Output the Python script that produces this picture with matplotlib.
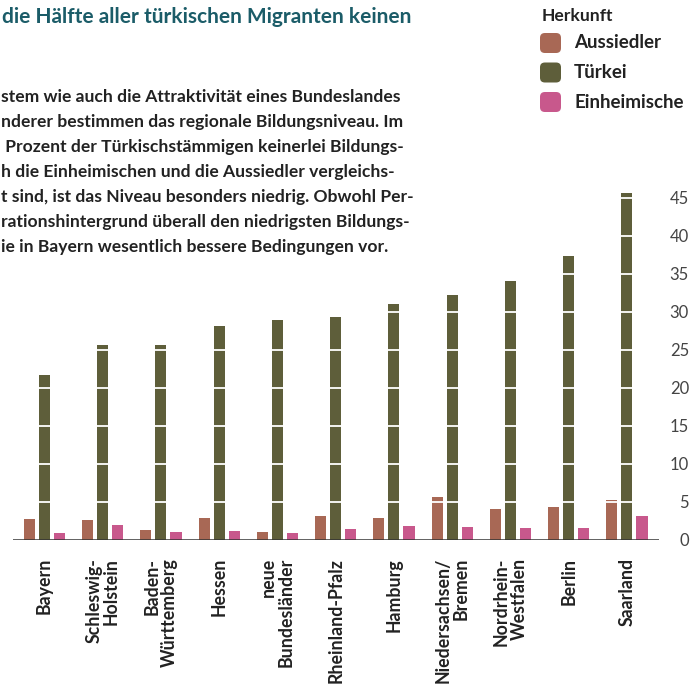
import numpy as np
import matplotlib
matplotlib.use("Agg")
import matplotlib.pyplot as plt
from matplotlib.patches import FancyBboxPatch

plt.rcParams['font.family'] = ['Lato', 'DejaVu Sans']

# Anteil ohne Bildungsabschluss nach Bundesland und Herkunft (Prozent)
laender = ["Bayern", "Schleswig-\nHolstein", "Baden-\nWürttemberg", "Hessen",
           "neue\nBundesländer", "Rheinland-Pfalz", "Hamburg",
           "Niedersachsen/\nBremen", "Nordrhein-\nWestfalen", "Berlin", "Saarland"]
aussiedler = [2.8, 2.6, 1.3, 2.9, 1.1, 3.1, 2.9, 5.6, 4.1, 4.3, 5.2]
tuerkei = [21.7, 25.7, 25.7, 28.1, 29.0, 29.3, 31.0, 32.3, 34.1, 37.4, 45.6]
einheimische = [0.9, 2.0, 1.1, 1.2, 0.9, 1.4, 1.8, 1.7, 1.6, 1.6, 3.1]

serien = ["Aussiedler", "Türkei", "Einheimische"]
farben = ["#a86855", "#5e5e3a", "#c8588c"]
yticks = np.arange(0, 50, 5)

titel = "die Hälfte aller türkischen Migranten keinen"
text_zeilen = [
    "stem wie auch die Attraktivität eines Bundeslandes",
    "nderer bestimmen das regionale Bildungsniveau. Im",
    " Prozent der Türkischstämmigen keinerlei Bildungs-",
    "h die Einheimischen und die Aussiedler vergleichs-",
    "t sind, ist das Niveau besonders niedrig. Obwohl Per-",
    "rationshintergrund überall den niedrigsten Bildungs-",
    "ie in Bayern wesentlich bessere Bedingungen vor.",
]

W, H = 700, 689
fig = plt.figure(figsize=(W / 100, H / 100), dpi=100)


def fx(x):
    return x / W


def fy(y):
    return 1 - y / H


ax = fig.add_axes([fx(13), fy(540), (659 - 13) / W, (540 - 190.4) / H])

x = np.arange(len(laender))
breite = 0.19
abstand = 0.258
for i, (werte, farbe) in enumerate(zip([aussiedler, tuerkei, einheimische], farben)):
    ax.bar(x + (i - 1) * abstand, werte, width=breite, color=farbe, zorder=2)

# weisse Hilfslinien ueber den Balken
for t in yticks[1:]:
    ax.axhline(t, color="white", lw=1.3, zorder=3)
ax.axhline(0, color="#333333", lw=1.8, zorder=4)

ax.set_xlim(-0.54, 10.55)
ax.set_ylim(0, 46)
for s in ax.spines.values():
    s.set_visible(False)

ax.set_xticks(x)
ax.set_xticklabels(laender, rotation=90, fontsize=12.8, fontweight="bold",
                   color="#222222", va="top", ha="center", multialignment="right",
                   linespacing=1.05)
ax.tick_params(axis="x", length=0, pad=13)

ax.yaxis.tick_right()
ax.set_yticks(yticks)
ax.set_yticklabels([str(t) for t in yticks], fontsize=12, fontweight="normal",
                   color="#444444")
for lbl in ax.get_yticklabels():
    lbl.set_ha("right")
ax.tick_params(axis="y", length=0, pad=21.6)

# Titel und Erlaeuterungstext
fig.text(fx(2), fy(17), titel, fontsize=15, fontweight="bold", color="#1b5c68",
         ha="left", va="center")
for k, zeile in enumerate(text_zeilen):
    fig.text(fx(1), fy(97 + 25 * k), zeile, fontsize=12.6, fontweight="bold",
             color="#222222", ha="left", va="center")

# Legende
fig.text(fx(542), fy(16), "Herkunft", fontsize=12.6, fontweight="bold",
         color="#222222", ha="left", va="center")
for k, (name, farbe) in enumerate(zip(serien, farben)):
    yc = 43 + 29.5 * k
    box = FancyBboxPatch((fx(540), fy(yc + 10)), 21 / W, 20 / H,
                         boxstyle="round,pad=0,rounding_size=0.007",
                         transform=fig.transFigure, facecolor=farbe,
                         edgecolor="none")
    fig.add_artist(box)
    fig.text(fx(574), fy(yc), name, fontsize=13.5, fontweight="bold",
             color="#222222", ha="left", va="center")

fig.savefig("out.png", dpi=100)
